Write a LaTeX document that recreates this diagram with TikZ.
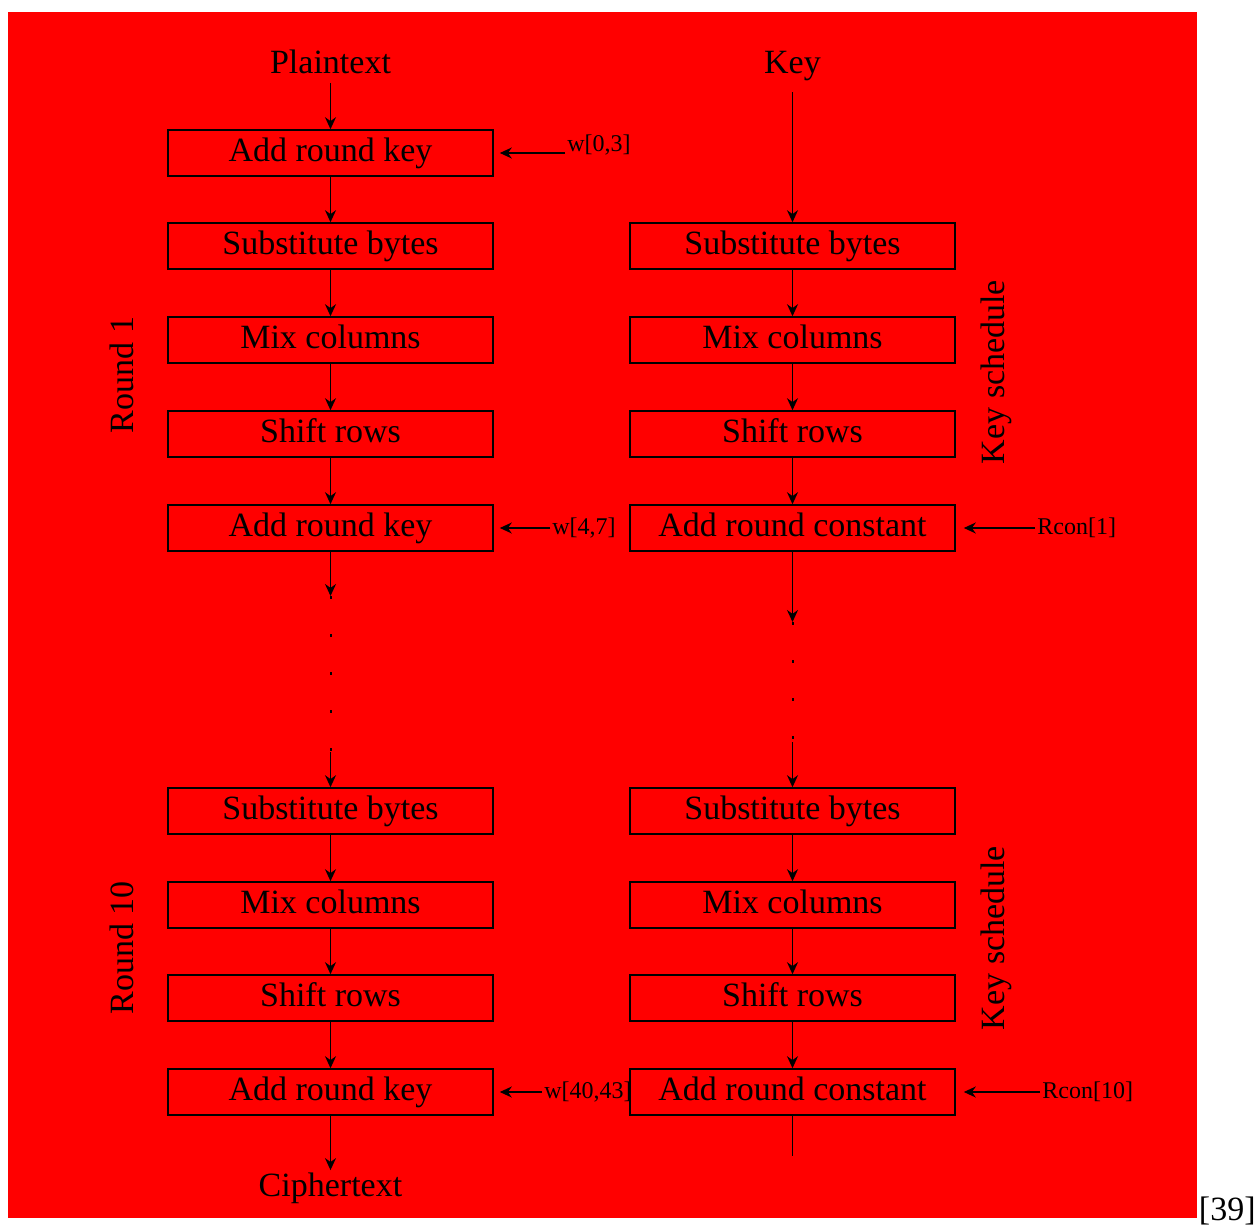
\documentclass[tikz,border=0pt]{standalone}
\usepackage{fontspec}
\setmainfont{Liberation Serif}
\usetikzlibrary{arrows.meta}
\begin{document}
\begin{tikzpicture}[x=0.5pt,y=-0.5pt,
  box/.style={draw=black, line width=0.8pt, minimum width=162.5pt, minimum height=23pt, inner sep=0pt, text height=12pt, text depth=3.5pt, font=\fontsize{17}{20}\selectfont},
  plain/.style={inner sep=1pt, text height=12pt, text depth=3.5pt, font=\fontsize{17}{20}\selectfont},
  small/.style={inner sep=1pt, font=\fontsize{12}{14}\selectfont},
  side/.style={inner sep=1pt, rotate=90, font=\fontsize{17}{20}\selectfont},
  arr/.style={-{Stealth[length=6pt,width=5.5pt]}, line width=0.8pt},
  ln/.style={line width=0.8pt},
  dots/.style={line width=1pt, dash pattern=on 1.5pt off 17.5pt}]
\useasboundingbox (0,0) rectangle (1259,1226);
\fill[white] (0,0) rectangle (1259,1226);
\fill[red] (8,12) rectangle (1197,1218);
% left column
\node[plain] (P) at (330.5,65) {Plaintext};
\node[box] (L1) at (330.5,153) {Add round key};
\node[box] (L2) at (330.5,246) {Substitute bytes};
\node[box] (L3) at (330.5,340) {Mix columns};
\node[box] (L4) at (330.5,434) {Shift rows};
\node[box] (L5) at (330.5,528) {Add round key};
\node[box] (L6) at (330.5,811) {Substitute bytes};
\node[box] (L7) at (330.5,905) {Mix columns};
\node[box] (L8) at (330.5,998) {Shift rows};
\node[box] (L9) at (330.5,1092) {Add round key};
\node[plain] (C) at (330.5,1188) {Ciphertext};
\coordinate (l5a) at (330.5,596);
\coordinate (l6a) at (330.5,752);
% right column
\node[plain] (K) at (792.5,65) {Key};
\coordinate (k0) at (792.5,92);
\node[box] (R1) at (792.5,246) {Substitute bytes};
\node[box] (R2) at (792.5,340) {Mix columns};
\node[box] (R3) at (792.5,434) {Shift rows};
\node[box] (R4) at (792.5,528) {Add round constant};
\node[box] (R5) at (792.5,811) {Substitute bytes};
\node[box] (R6) at (792.5,905) {Mix columns};
\node[box] (R7) at (792.5,998) {Shift rows};
\node[box] (R8) at (792.5,1092) {Add round constant};
\coordinate (r4a) at (792.5,622);
\coordinate (r5a) at (792.5,742);
\coordinate (r8a) at (792.5,1156);
% side labels
\node[side] (S1) at (122,375) {Round 1};
\node[side] (S2) at (122,948) {Round 10};
\node[side] (S3) at (996,372) {Key schedule};
\node[side] (S4) at (996,938) {Key schedule};
% arrow labels
\node[small, anchor=west] (W1) at (565,145) {w[0,3]};
\node[small, anchor=west] (W2) at (550,528) {w[4,7]};
\node[small, anchor=west] (W3) at (542,1092) {w[40,43]};
\node[small, anchor=west] (W4) at (1035,528) {Rcon[1]};
\node[small, anchor=west] (W5) at (1040,1092) {Rcon[10]};
\node[inner sep=0pt, anchor=east, font=\fontsize{17}{20}\selectfont] (N) at (1256,1211) {[39]};
% connectors left
\draw[arr] (P) -- (L1);
\draw[arr] (L1) -- (L2);
\draw[arr] (L2) -- (L3);
\draw[arr] (L3) -- (L4);
\draw[arr] (L4) -- (L5);
\draw[arr] (L5) -- (l5a);
\draw[dots] (l5a) -- (l6a);
\draw[arr] (l6a) -- (L6);
\draw[arr] (L6) -- (L7);
\draw[arr] (L7) -- (L8);
\draw[arr] (L8) -- (L9);
\draw[arr] (L9) -- (C);
% connectors right
\draw[arr] (k0) -- (R1);
\draw[arr] (R1) -- (R2);
\draw[arr] (R2) -- (R3);
\draw[arr] (R3) -- (R4);
\draw[arr] (R4) -- (r4a);
\draw[dots] (r4a) -- (r5a);
\draw[arr] (r5a) -- (R5);
\draw[arr] (R5) -- (R6);
\draw[arr] (R6) -- (R7);
\draw[arr] (R7) -- (R8);
\draw[ln] (R8) -- (r8a);
% side arrows
\draw[arr] (W1.west |- L1.east) -- ([xshift=3pt]L1.east);
\draw[arr] (W2) -- ([xshift=3pt]L5.east);
\draw[arr] (W3) -- ([xshift=3pt]L9.east);
\draw[arr] (W4) -- ([xshift=4pt]R4.east);
\draw[arr] (W5) -- ([xshift=4pt]R8.east);
\end{tikzpicture}
\end{document}
